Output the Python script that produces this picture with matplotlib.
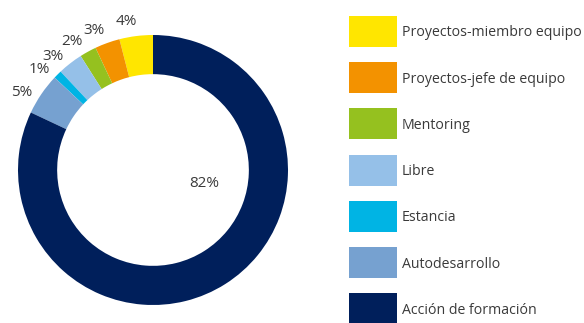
import matplotlib.pyplot as plt
from matplotlib.patches import Rectangle
import numpy as np

labels = ["Proyectos-miembro equipo", "Proyectos-jefe de equipo", "Mentoring",
          "Libre", "Estancia", "Autodesarrollo", "Acción de formación"]
values = [4, 3, 2, 3, 1, 5, 82]
colors = ["#FFE600", "#F39200", "#95C11F", "#95C0E8", "#00B4E4", "#76A1D0", "#001F5B"]

plt.rcParams['font.family'] = ['Open Sans', 'DejaVu Sans']
txt = "#3a3a3a"

W, H = 584, 323
fig = plt.figure(figsize=(W / 100, H / 100), dpi=100)

# donut
cx, cy, R = 153, 170, 135
ax = fig.add_axes([(cx - R) / W, (H - cy - R) / H, 2 * R / W, 2 * R / H])
wedges, _ = ax.pie(values, colors=colors, startangle=90, counterclock=True,
                   radius=1, wedgeprops=dict(width=0.29, linewidth=0))
ax.set_xlim(-1, 1)
ax.set_ylim(-1, 1)
ax.set_aspect('equal')
ax.axis('off')

for w, v in zip(wedges, values):
    if v == max(values):
        ax.text(0.38, -0.1, f"{v}%", ha='center', va='center', fontsize=11, color=txt)
        continue
    # small slices get their label just outside the ring
    ang = np.deg2rad((w.theta1 + w.theta2) / 2 + 3)
    ax.text(1.135 * np.cos(ang), 1.135 * np.sin(ang) - 0.015, f"{v}%", ha='center',
            va='center', fontsize=11, color=txt, clip_on=False)

# legend
lax = fig.add_axes([0, 0, 1, 1])
lax.set_xlim(0, W)
lax.set_ylim(H, 0)
lax.axis('off')
row0, step = 31.5, 46.2
for i, (lab, c) in enumerate(zip(labels, colors)):
    y = row0 + i * step
    lax.add_patch(Rectangle((349, y - 15.5), 48, 31, facecolor=c, edgecolor='none'))
    lax.text(402, y + 1.5, lab, ha='left', va='center', fontsize=10.2, color=txt)

fig.savefig("out.png", dpi=100)
